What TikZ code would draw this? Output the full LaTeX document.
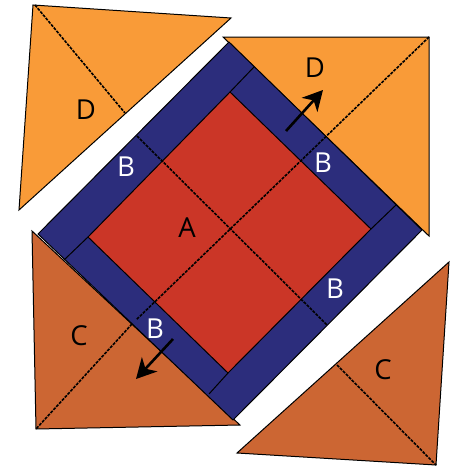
\documentclass[tikz,border=0pt]{standalone}
\usepackage{fontspec}
\setmainfont{Open Sans}
\usetikzlibrary{arrows.meta}
\definecolor{orng}{HTML}{F99B38}
\definecolor{brwn}{HTML}{CC6633}
\definecolor{rd}{HTML}{CB3627}
\definecolor{nvy}{HTML}{2C2D7C}
\tikzset{
  patch/.style={draw=black,line width=1pt,line join=miter},
  fold/.style={draw=black,line width=1.6pt,dash pattern=on 3pt off 1.2pt},
  seam/.style={draw=black,line width=1pt},
  grain/.style={draw=black,line width=2.6pt,-{Stealth[length=20pt,width=21pt,inset=6pt]}},
  lbl/.style={font=\fontsize{27.5}{27.5}\selectfont,text=black,inner sep=0pt},
  lblw/.style={lbl,text=white}
}
\begin{document}
\begin{tikzpicture}[x=1pt,y=-1pt]
\useasboundingbox (0,0) rectangle (457,466);
% triangles
\draw[patch,fill=orng] (33,5) -- (231,18) -- (19,210) -- cycle;
\draw[patch,fill=orng] (223,37) -- (429,37) -- (429,236) -- cycle;
\draw[patch,fill=brwn] (32,231) -- (36,429) -- (240,425) -- cycle;
\draw[patch,fill=brwn] (449,262) -- (237,453) -- (436,465) -- cycle;
% frame and centre
\draw[patch,fill=nvy] (229,42) -- (422,230) -- (233,420) -- (38,234) -- cycle;
\draw[patch,fill=rd] (230,92) -- (371,229) -- (228,373) -- (88,237) -- cycle;
% seams
\coordinate (rt) at (230,92); \coordinate (rr) at (371,229);
\coordinate (rb) at (228,373); \coordinate (rl) at (88,237);
\coordinate (ot) at (254,67); \coordinate (or) at (396,205);
\coordinate (ob) at (209,394); \coordinate (ol) at (64,260);
\draw[seam] (rt) -- (ot); \draw[seam] (rr) -- (or);
\draw[seam] (rb) -- (ob); \draw[seam] (rl) -- (ol);
% fold lines
\coordinate (f1) at (35,5); \coordinate (f2) at (125,113);
\coordinate (f3) at (137,136); \coordinate (f4) at (327,325);
\coordinate (f5) at (337,365); \coordinate (f6) at (436,465);
\coordinate (f7) at (429,37); \coordinate (f8) at (136,320);
\coordinate (f9) at (132,324); \coordinate (f10) at (36,429);
\draw[fold] (f1) -- (f2);
\draw[fold] (f3) -- (f4);
\draw[fold] (f5) -- (f6);
\draw[fold] (f7) -- (f8);
\draw[fold] (f9) -- (f10);
% grain arrows
\coordinate (a1) at (286,131); \coordinate (a2) at (323,90);
\coordinate (a3) at (173,339); \coordinate (a4) at (136,379);
\draw[grain] (a1) -- (a2);
\draw[grain] (a3) -- (a4);
% labels
\node[lbl] (d1) at (86,110) {D};
\node[lbl] (d2) at (315,68) {D};
\node[lbl] (c1) at (79,336) {C};
\node[lbl] (c2) at (383,370) {C};
\node[lbl] (a) at (187,228) {A};
\node[lblw] (b1) at (126,167) {B};
\node[lblw] (b2) at (323,163) {B};
\node[lblw] (b3) at (335,289) {B};
\node[lblw] (b4) at (155,329) {B};
\end{tikzpicture}
\end{document}
